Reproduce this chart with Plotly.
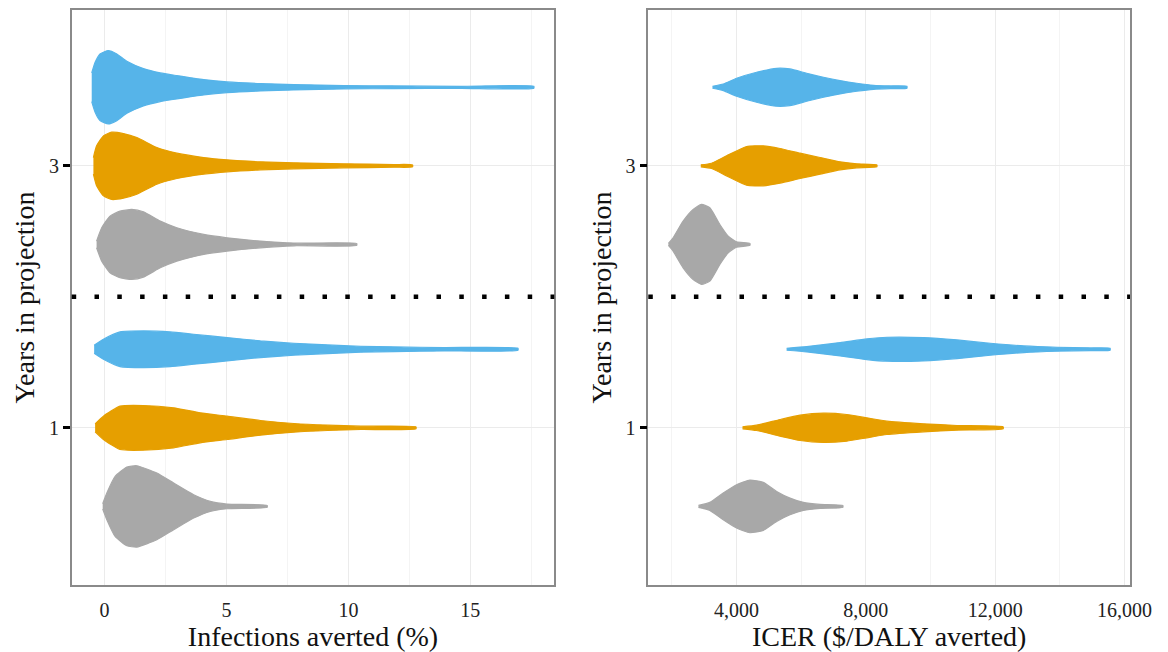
import plotly.graph_objects as go

# ---------------- data ----------------
years = [1, 3]
groups = ["gray", "orange", "blue"]
group_colors = {"gray": "#A8A8A8", "orange": "#E69F00", "blue": "#56B4E9"}

# Infections averted (%) : violin profiles (value, half-width density)
inf_y3_blue_x = [-0.52, -0.38, -0.18, 0.16, 0.51, 0.92, 1.60, 2.29, 2.97, 4.07, 5.03, 6.40, 7.77, 9.82, 11.88, 14.62, 17.6]
inf_y3_blue_w = [43, 75, 100, 110, 100, 78, 56, 43, 35, 23, 16, 11, 8, 5, 4, 3, 3]
inf_y3_orange_x = [-0.45, -0.32, -0.04, 0.30, 0.78, 1.33, 2.15, 2.97, 4.07, 5.03, 6.40, 7.77, 9.82, 11.88, 12.63]
inf_y3_orange_w = [25, 60, 90, 101, 97, 85, 55, 38, 25, 18, 12, 9, 6, 4, 3]
inf_y3_gray_x = [-0.32, -0.11, 0.23, 0.64, 1.12, 1.60, 2.29, 2.97, 4.07, 5.03, 6.40, 7.77, 10.34]
inf_y3_gray_w = [10, 50, 85, 100, 105, 98, 70, 50, 30, 20, 10, 4, 3]
inf_y1_blue_x = [-0.42, -0.04, 0.64, 1.60, 2.70, 3.66, 5.03, 6.40, 7.77, 9.14, 10.51, 11.88, 13.93, 16.95]
inf_y1_blue_w = [12, 30, 52, 55, 52, 45, 35, 25, 18, 13, 9, 7, 5, 3]
inf_y1_orange_x = [-0.38, -0.04, 0.64, 1.60, 2.84, 3.93, 5.03, 6.40, 7.77, 9.14, 10.51, 12.77]
inf_y1_orange_w = [12, 35, 65, 67, 60, 45, 35, 22, 13, 8, 5, 3]
inf_y1_gray_x = [-0.07, 0.10, 0.44, 0.92, 1.33, 2.15, 2.84, 3.66, 4.34, 5.03, 6.67]
inf_y1_gray_w = [8, 40, 90, 118, 122, 100, 70, 35, 15, 7, 3]

# ICER ($/DALY averted)
icer_y3_blue_x = [3256, 3590, 4000, 4620, 5240, 5650, 6170, 6690, 7200, 7720, 8240, 8760, 9270]
icer_y3_blue_w = [3, 10, 27, 45, 57, 55, 42, 30, 20, 12, 6, 4, 3]
icer_y3_orange_x = [2894, 3225, 3690, 4310, 4827, 5344, 5964, 6584, 7204, 7721, 8341]
icer_y3_orange_w = [3, 8, 30, 58, 60, 52, 38, 25, 12, 6, 3]
icer_y3_gray_x = [1891, 2036, 2346, 2656, 2915, 3173, 3483, 3742, 4000, 4413]
icer_y3_gray_w = [3, 20, 70, 105, 120, 110, 60, 25, 8, 3]
icer_y1_blue_x = [5550, 6171, 7204, 8031, 8651, 9788, 10822, 11855, 12889, 13923, 14956, 15556]
icer_y1_blue_w = [3, 8, 20, 31, 36, 35, 28, 18, 10, 6, 4, 3]
icer_y1_orange_x = [4186, 4620, 5344, 5964, 6687, 7411, 8031, 8651, 9788, 10822, 12248]
icer_y1_orange_w = [3, 8, 25, 38, 44, 40, 30, 20, 12, 7, 3]
icer_y1_gray_x = [2822, 3173, 3587, 4000, 4413, 4827, 5240, 5654, 6067, 6584, 7287]
icer_y1_gray_w = [3, 12, 40, 65, 79, 72, 45, 25, 12, 6, 3]

inf_ticks = [0, 5, 10, 15]
icer_ticks = [4000, 8000, 12000, 16000]
icer_ticklabels = ["4,000", "8,000", "12,000", "16,000"]

# ---------------- figure ----------------
DODGE = {"gray": -0.6, "orange": 0.0, "blue": 0.6}
W_SCALE = 1 / 393.0   # density -> y-axis units

violins = {
    ("x", "y"): {
        (3, "blue"): (inf_y3_blue_x, inf_y3_blue_w),
        (3, "orange"): (inf_y3_orange_x, inf_y3_orange_w),
        (3, "gray"): (inf_y3_gray_x, inf_y3_gray_w),
        (1, "blue"): (inf_y1_blue_x, inf_y1_blue_w),
        (1, "orange"): (inf_y1_orange_x, inf_y1_orange_w),
        (1, "gray"): (inf_y1_gray_x, inf_y1_gray_w),
    },
    ("x2", "y2"): {
        (3, "blue"): (icer_y3_blue_x, icer_y3_blue_w),
        (3, "orange"): (icer_y3_orange_x, icer_y3_orange_w),
        (3, "gray"): (icer_y3_gray_x, icer_y3_gray_w),
        (1, "blue"): (icer_y1_blue_x, icer_y1_blue_w),
        (1, "orange"): (icer_y1_orange_x, icer_y1_orange_w),
        (1, "gray"): (icer_y1_gray_x, icer_y1_gray_w),
    },
}

fig = go.Figure()
for (xa, ya), d in violins.items():
    for (yr, g), (xs, ws) in d.items():
        c = yr + DODGE[g]
        top = [c + w * W_SCALE for w in ws]
        bot = [c - w * W_SCALE for w in ws]
        fig.add_trace(go.Scatter(
            x=list(xs) + list(xs[::-1]),
            y=top + bot[::-1],
            fill="toself", fillcolor=group_colors[g],
            line=dict(color=group_colors[g], width=1.2, shape="spline", smoothing=0.5),
            mode="lines", xaxis=xa, yaxis=ya, showlegend=False,
            hoverinfo="skip",
        ))

FONT = "Liberation Serif"
axis_common = dict(
    showline=True, mirror=True, linecolor="#8a8a8a", linewidth=1.6,
    gridcolor="#EBEBEB", gridwidth=1, zeroline=False, automargin=False,
    tickfont=dict(family=FONT, size=20, color="#222"),
)
TITLE_FONT = dict(family=FONT, size=28, color="#111")

ydom = [1 - 585 / 652, 1 - 10 / 652]
fig.update_layout(
    width=1168, height=652,
    margin=dict(l=0, r=0, t=0, b=0, autoexpand=False),
    paper_bgcolor="white", plot_bgcolor="white",
    font=dict(family=FONT, color="#111"),
    xaxis=dict(domain=[71.7 / 1168, 554.3 / 1168], range=[-1.34, 18.44], anchor="y",
               tickvals=inf_ticks, ticks="", ticklabelstandoff=6,
               minor=dict(dtick=2.5, tick0=2.5, showgrid=True, gridcolor="#F4F4F4"),
               title=dict(text="Infections averted (%)", font=TITLE_FONT, standoff=4),
               **axis_common),
    yaxis=dict(domain=ydom, range=[-0.2, 4.19], tickvals=years, anchor="x",
               ticks="outside", ticklen=7, tickwidth=2.5, tickcolor="black",
               title=dict(text="Years in projection", font=TITLE_FONT, standoff=6),
               **axis_common),
    xaxis2=dict(domain=[648.3 / 1168, 1130 / 1168], range=[1269, 16173], anchor="y2",
                tickvals=icer_ticks, ticktext=icer_ticklabels, ticks="", ticklabelstandoff=6,
                minor=dict(dtick=2000, tick0=2000, showgrid=True, gridcolor="#F4F4F4"),
                title=dict(text="ICER ($/DALY averted)", font=TITLE_FONT, standoff=4),
                **axis_common),
    yaxis2=dict(domain=ydom, range=[-0.2, 4.19], tickvals=years, anchor="x2",
                ticks="outside", ticklen=7, tickwidth=2.5, tickcolor="black",
                title=dict(text="Years in projection", font=TITLE_FONT, standoff=6),
                **axis_common),
)

for xr, yr_ in [("x domain", "y"), ("x2 domain", "y2")]:
    fig.add_shape(type="line", xref=xr, yref=yr_, x0=0, x1=1, y0=2, y1=2,
                  line=dict(color="black", width=4.5, dash="4.5px,18.3px"))

fig.write_html("out.html")
